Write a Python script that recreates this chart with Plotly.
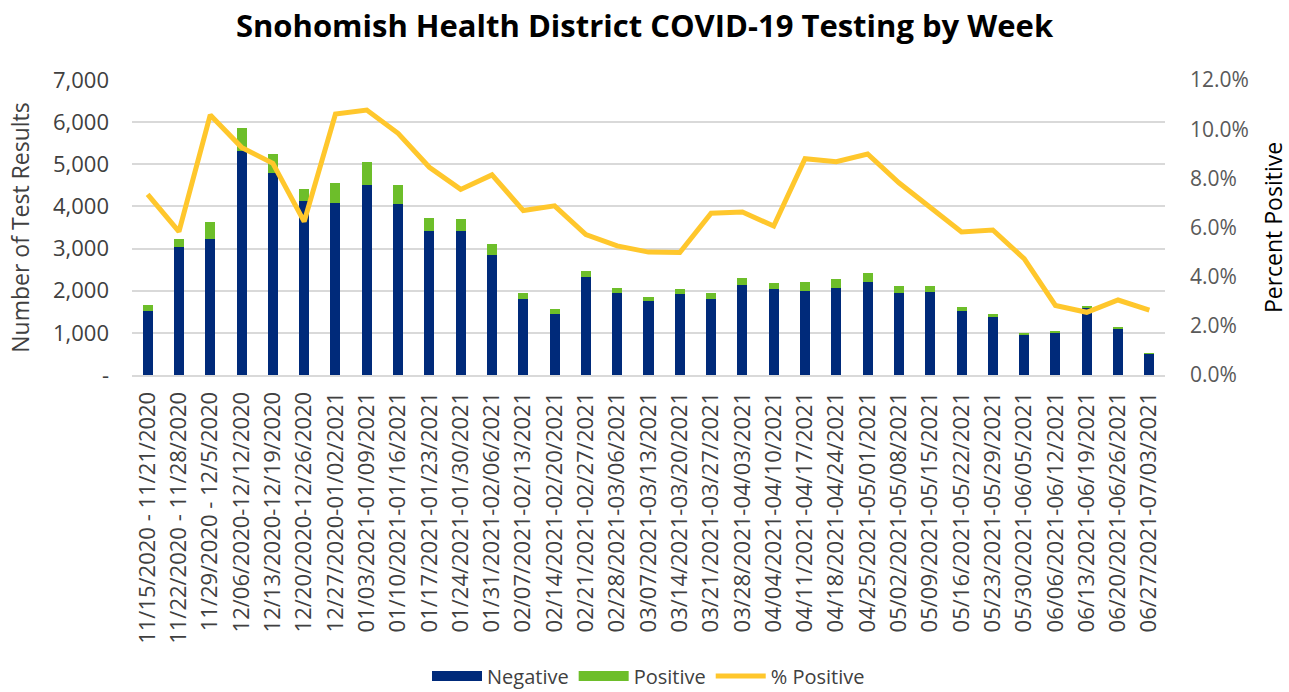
import plotly.graph_objects as go

weeks = [
    "11/15/2020 - 11/21/2020", "11/22/2020 - 11/28/2020", "11/29/2020 - 12/5/2020",
    "12/06/2020-12/12/2020", "12/13/2020-12/19/2020", "12/20/2020-12/26/2020",
    "12/27/2020-01/02/2021", "01/03/2021-01/09/2021", "01/10/2021-01/16/2021",
    "01/17/2021-01/23/2021", "01/24/2021-01/30/2021", "01/31/2021-02/06/2021",
    "02/07/2021-02/13/2021", "02/14/2021-02/20/2021", "02/21/2021-02/27/2021",
    "02/28/2021-03/06/2021", "03/07/2021-03/13/2021", "03/14/2021-03/20/2021",
    "03/21/2021-03/27/2021", "03/28/2021-04/03/2021", "04/04/2021-04/10/2021",
    "04/11/2021-04/17/2021", "04/18/2021-04/24/2021", "04/25/2021-05/01/2021",
    "05/02/2021-05/08/2021", "05/09/2021-05/15/2021", "05/16/2021-05/22/2021",
    "05/23/2021-05/29/2021", "05/30/2021-06/05/2021", "06/06/2021-06/12/2021",
    "06/13/2021-06/19/2021", "06/20/2021-06/26/2021", "06/27/2021-07/03/2021",
]

negative = [1526, 3045, 3235, 5323, 4801, 4137, 4074, 4517, 4058, 3409, 3425,
            2848, 1811, 1440, 2333, 1954, 1764, 1930, 1811, 2144, 2041, 2002,
            2073, 2199, 1954, 1962, 1511, 1369, 941, 1004, 1580, 1099, 514]

positive = [128, 190, 396, 531, 444, 285, 490, 538, 443, 325, 285,
            261, 135, 118, 143, 111, 87, 111, 135, 150, 134, 197,
            205, 229, 166, 158, 103, 86, 48, 40, 65, 40, 6]

pct_positive = [7.35, 5.83, 10.58, 9.26, 8.61, 6.24, 10.62, 10.78, 9.83, 8.45,
                7.55, 8.14, 6.69, 6.88, 5.71, 5.25, 5.00, 4.98, 6.58, 6.63,
                6.06, 8.80, 8.68, 8.99, 7.82, 6.81, 5.82, 5.90, 4.73, 2.83,
                2.55, 3.05, 2.64]

left_ticks = [0, 1000, 2000, 3000, 4000, 5000, 6000, 7000]
left_ticktext = ["-", "1,000", "2,000", "3,000", "4,000", "5,000", "6,000", "7,000"]
right_ticks = [0, 2, 4, 6, 8, 10, 12]
right_ticktext = ["0.0%", "2.0%", "4.0%", "6.0%", "8.0%", "10.0%", "12.0%"]

FONT = "Open Sans"
NAVY = "#002A7A"
GREEN = "#6DBE2A"
GOLD = "#FFC72C"

W, H = 1289, 692
ML, MR, MT, MB = 132, 124, 80, 317
PLOT_H = H - MT - MB

fig = go.Figure()
fig.add_trace(go.Bar(x=weeks, y=negative, name="Negative", showlegend=False,
                     marker=dict(color=NAVY, line=dict(width=0))))
fig.add_trace(go.Bar(x=weeks, y=positive, name="Positive", showlegend=False,
                     marker=dict(color=GREEN, line=dict(width=0))))
fig.add_trace(go.Scatter(x=weeks, y=pct_positive, name="% Positive", yaxis="y2",
                         mode="lines", line=dict(color=GOLD, width=5),
                         showlegend=False))
# legend entries (Excel-style wide swatches)
fig.add_trace(go.Scatter(x=[None], y=[None], name="Negative", mode="lines",
                         line=dict(color=NAVY, width=14)))
fig.add_trace(go.Scatter(x=[None], y=[None], name="Positive", mode="lines",
                         line=dict(color=GREEN, width=14)))
fig.add_trace(go.Scatter(x=[None], y=[None], name="% Positive", mode="lines",
                         line=dict(color=GOLD, width=5)))

fig.update_layout(
    width=W, height=H,
    paper_bgcolor="white", plot_bgcolor="white",
    barmode="stack", bargap=0.68,
    margin=dict(l=ML, r=MR, t=MT, b=MB, autoexpand=False),
    font=dict(family=FONT, color="#404040"),
    title=dict(text="<b>Snohomish Health District COVID-19 Testing by Week</b>",
               x=0.5, xanchor="center", y=(H - 26) / H, yanchor="middle",
               font=dict(family=FONT, size=31, color="black")),
    xaxis=dict(tickangle=-90, tickfont=dict(size=22, color="#404040"),
               showgrid=False, showline=True, linecolor="#D9D9D9", linewidth=2,
               ticks="", range=[-0.5, 32.5], automargin=False,
               ticklabelstandoff=6),
    yaxis=dict(range=[0, 7000], tickvals=left_ticks, ticktext=left_ticktext,
               tickfont=dict(size=22, color="#404040"),
               showgrid=True, gridcolor="#D9D9D9", gridwidth=1.5,
               zeroline=False, ticks="", ticklabelstandoff=22, automargin=False,
               title=dict(text="Number of Test Results",
                          font=dict(size=23, color="#404040"), standoff=16)),
    yaxis2=dict(range=[0, 12], tickvals=right_ticks, ticktext=right_ticktext,
                overlaying="y", side="right",
                tickfont=dict(size=21, color="#595959"),
                showgrid=False, zeroline=False, ticklabelstandoff=24,
                automargin=False,
                title=dict(text="Percent Positive",
                           font=dict(size=23, color="black"), standoff=20)),
    legend=dict(orientation="h", x=0.5, xanchor="center",
                y=((H - MB) - 676) / PLOT_H, yanchor="middle",
                font=dict(size=20, color="#404040"), traceorder="normal",
                itemwidth=50),
    showlegend=True,
)

fig.write_html("out.html",
               config={"displayModeBar": False},
               post_script="document.body.style.margin='0';"
                           "document.body.style.overflow='hidden';")
